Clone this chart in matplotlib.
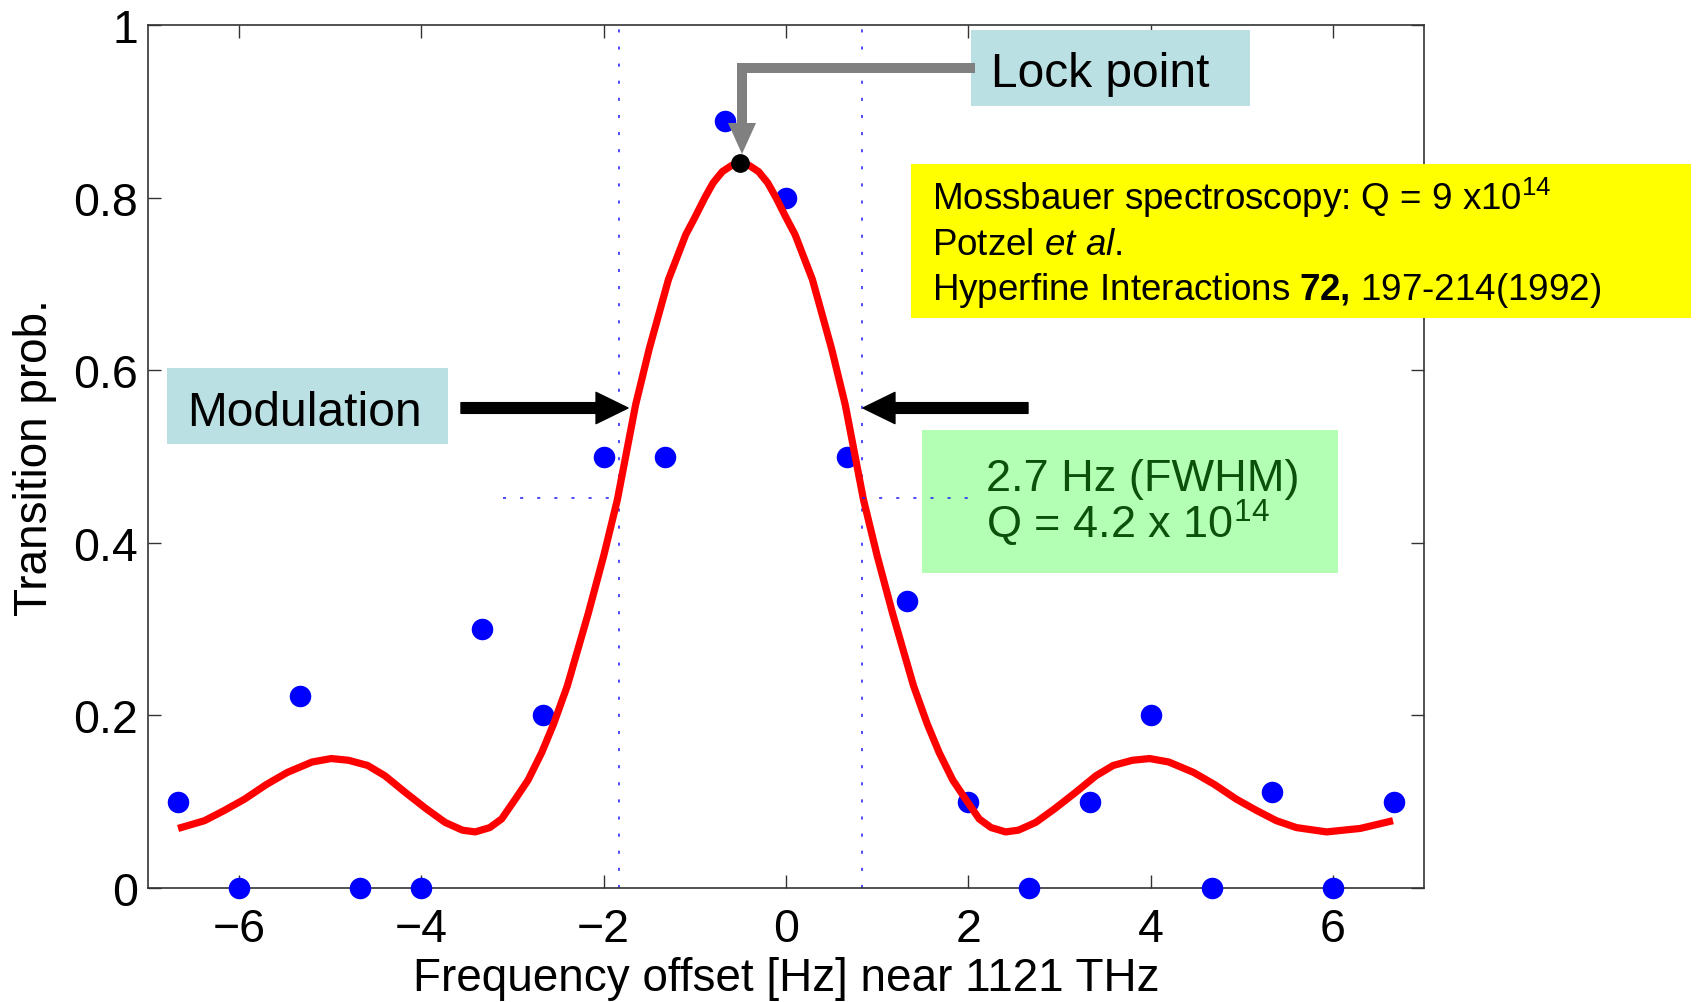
import matplotlib
matplotlib.use('Agg')
import matplotlib.pyplot as plt
from matplotlib.patches import Rectangle, Polygon, FancyArrowPatch

plt.rcParams['font.family'] = ['Liberation Sans', 'DejaVu Sans']
plt.rcParams['mathtext.fontset'] = 'custom'
plt.rcParams['mathtext.rm'] = 'Liberation Sans'
plt.rcParams['mathtext.it'] = 'Liberation Sans:italic'
plt.rcParams['mathtext.bf'] = 'Liberation Sans:bold'
plt.rcParams['mathtext.default'] = 'regular'

# measured transition probabilities
freq = [-6.67, -6.0, -5.33, -4.67, -4.0, -3.33, -2.67, -2.0, -1.33, -0.67, 0.0,
        0.67, 1.33, 2.0, 2.67, 3.33, 4.0, 4.67, 5.33, 6.0, 6.67]
prob = [0.1, 0.0, 0.222, 0.0, 0.0, 0.3, 0.2, 0.5, 0.5, 0.889, 0.8,
        0.5, 0.333, 0.1, 0.0, 0.1, 0.2, 0.0, 0.111, 0.0, 0.1]

# fitted line shape
fit_x = [-6.67, -6.38, -6.16, -5.94, -5.70, -5.47, -5.20, -4.99, -4.80, -4.59,
         -4.40, -4.18, -3.95, -3.74, -3.55, -3.41, -3.25, -3.12, -2.97, -2.83,
         -2.68, -2.55, -2.40, -2.17, -2.00, -1.85, -1.65, -1.50, -1.29, -1.10,
         -1.00, -0.89, -0.80, -0.70, -0.60, -0.50, -0.40, -0.30, -0.20, -0.11,
         0.00, 0.10, 0.29, 0.50, 0.65, 0.85,
         1.00, 1.17, 1.40, 1.55, 1.68, 1.83, 1.97, 2.12, 2.25, 2.41,
         2.55, 2.74, 2.95, 3.18, 3.40, 3.59, 3.80, 3.99, 4.20, 4.47,
         4.70, 4.94, 5.16, 5.38, 5.60, 5.93, 6.30, 6.66]
fit_y = [0.069, 0.078, 0.090, 0.103, 0.120, 0.134, 0.146, 0.150, 0.148, 0.142,
         0.130, 0.111, 0.092, 0.076, 0.067, 0.065, 0.070, 0.080, 0.103, 0.125,
         0.157, 0.190, 0.234, 0.318, 0.385, 0.450, 0.560, 0.625, 0.705, 0.757,
         0.777, 0.800, 0.817, 0.830, 0.837, 0.840, 0.837, 0.830, 0.817, 0.800,
         0.777, 0.757, 0.705, 0.625, 0.560, 0.450,
         0.385, 0.318, 0.234, 0.190, 0.157, 0.125, 0.103, 0.080, 0.070, 0.065,
         0.067, 0.076, 0.092, 0.111, 0.130, 0.142, 0.148, 0.150, 0.146, 0.134,
         0.120, 0.103, 0.090, 0.078, 0.070, 0.065, 0.069, 0.078]

lock_x, lock_y = -0.5, 0.84
mod_left, mod_right = -1.835, 0.83
half_max = 0.452
half_left_start, half_right_end = -3.1, 2.12

xticks = [-6, -4, -2, 0, 2, 4, 6]
yticks = [0, 0.2, 0.4, 0.6, 0.8, 1]
ytick_labels = ['0', '0.2', '0.4', '0.6', '0.8', '1']

W, H = 1697, 1003
fig = plt.figure(figsize=(W / 100, H / 100), dpi=100)
ax = fig.add_axes([148 / W, 1 - 889 / H, (1424 - 148) / W, (889 - 26) / H])


def fp(X, Y):
    return (X / W, 1 - Y / H)


dots = dict(linestyle=(0, (2, 9.2)), lw=1.1, color='#1a1aff')
ax.axvline(mod_left, zorder=1, **dots)
ax.axvline(mod_right, zorder=1, **dots)

ax.plot(freq, prob, 'o', color='#0000ff', ms=15.5, mec='none', zorder=3, clip_on=False)
ax.plot(fit_x, fit_y, color='#ff0000', lw=5.2, zorder=4,
        solid_capstyle='butt', solid_joinstyle='round')

ax.set_xlim(-7, 7)
ax.set_ylim(0, 1)
ax.set_xticks(xticks)
ax.set_yticks(yticks)
ax.set_yticklabels(ytick_labels)
ax.tick_params(direction='in', length=9.4, width=1.0, colors='#333333',
               top=True, right=True, labelsize=33.5, labelcolor='black')
ax.tick_params(axis='x', pad=14)
ax.tick_params(axis='y', pad=7)
for s in ax.spines.values():
    s.set_color('#333333')
    s.set_linewidth(1.2)
ax.set_xlabel('Frequency offset [Hz] near 1121 THz', fontsize=33, labelpad=3)
ax.set_ylabel('Transition prob.', fontsize=33, labelpad=12)


def box(X0, Y0, X1, Y1, color):
    ax.add_patch(Rectangle(fp(X0, Y1), (X1 - X0) / W, (Y1 - Y0) / H,
                           transform=fig.transFigure, facecolor=color,
                           edgecolor='none', clip_on=False, zorder=5))


def label(X, Y, s, size, color='black'):
    ax.text(*fp(X, Y), s, transform=fig.transFigure, fontsize=size, color=color,
            ha='left', va='baseline', zorder=8, clip_on=False)


box(971, 31, 1250, 107, '#bbe0e3')
box(167, 369, 448, 445, '#bbe0e3')
box(911, 165, 1691, 319, '#ffff00')
box(922, 431, 1338, 574, '#b3ffb3')

# FWHM guide lines (on top of the green box)
ax.plot([half_left_start, mod_left], [half_max, half_max], zorder=6, **dots)
ax.plot([mod_right, half_right_end], [half_max, half_max], zorder=6, clip_on=False, **dots)

label(991, 87, 'Lock point', 34.5)
label(187, 426, 'Modulation', 34.5)
label(932, 210, r'Mossbauer spectroscopy: Q = 9 x10$^{14}$', 26.5)
label(932, 255, r'Potzel $\mathit{et\ al.}$', 26.5)
label(932, 300, r'Hyperfine Interactions $\mathbf{72{,}}$ 197-214(1992)', 26.5)
label(986, 491, '2.7 Hz (FWHM)', 32.5, '#0b500b')
label(986, 539, r'Q = 4.2 x 10$^{14}$', 32.5, '#0b500b')

# grey elbow arrow to the lock point
gx = [975 / W, 742 / W, 742 / W]
gy = [1 - 69 / H, 1 - 69 / H, 1 - 126 / H]
ax.plot(gx, gy, color='#808080', lw=7.2, transform=fig.transFigure,
        solid_joinstyle='miter', solid_capstyle='butt', clip_on=False, zorder=6)
ax.add_patch(Polygon([fp(728, 124), fp(756, 124), fp(742, 155)], closed=True,
                     transform=fig.transFigure, facecolor='#808080',
                     edgecolor='none', clip_on=False, zorder=6))

# modulation arrows
for a, b in [((461, 409), (628, 409)), ((1028, 409), (863, 409))]:
    ax.add_patch(FancyArrowPatch(fp(*a), fp(*b), transform=fig.transFigure,
                                 arrowstyle='simple,head_length=23,head_width=22.5,tail_width=7.7',
                                 mutation_scale=1, color='black', shrinkA=0, shrinkB=0,
                                 clip_on=False, zorder=6))

ax.plot([lock_x], [lock_y], 'o', color='black', ms=12.5, zorder=7)

fig.savefig('out.png', dpi=100)
